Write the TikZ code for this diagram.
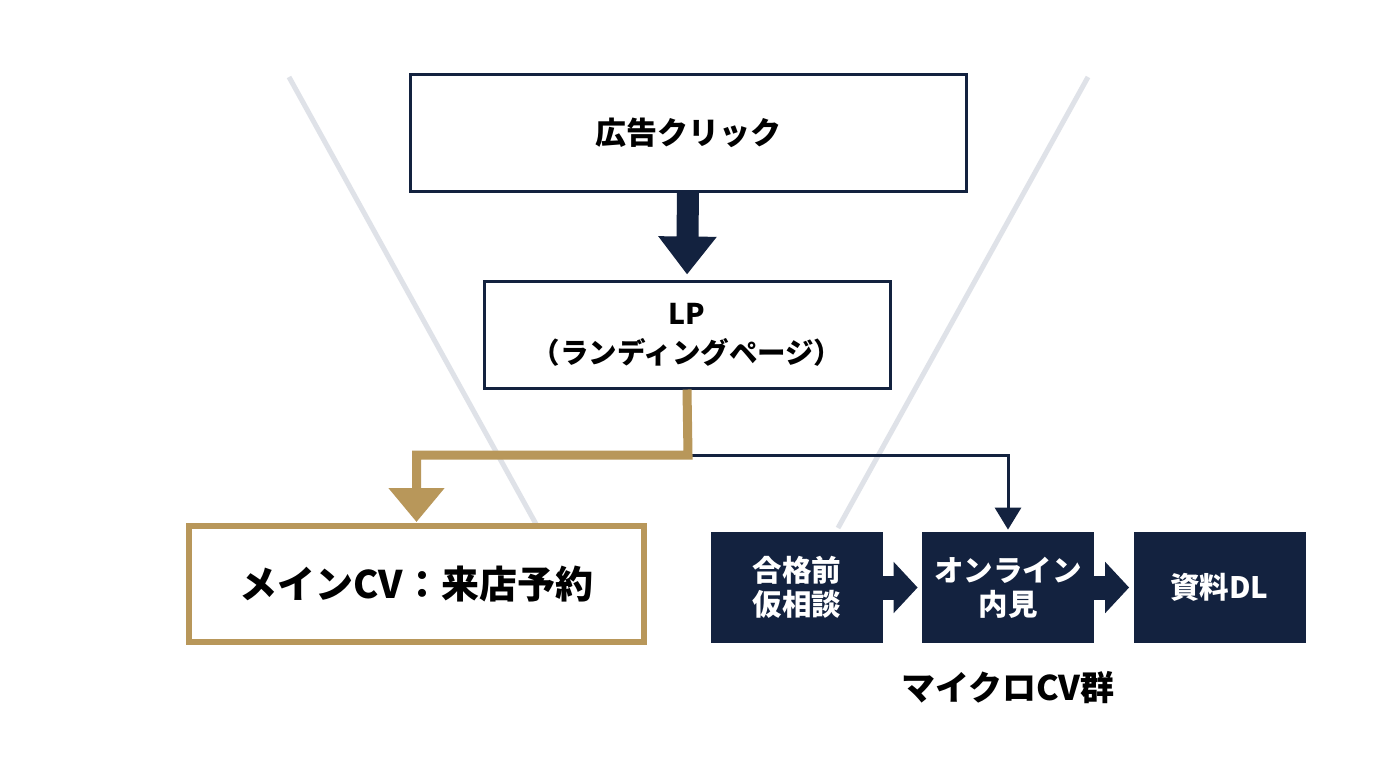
\documentclass[tikz,border=0pt]{standalone}
\usepackage{fontspec}
\setmainfont{Noto Sans CJK JP}
\usetikzlibrary{arrows.meta}

\definecolor{navy}{HTML}{13223F}
\definecolor{gold}{HTML}{B8975A}
\definecolor{funnel}{HTML}{DFE2E8}

\tikzset{
  framebox/.style={draw=navy, line width=1.5pt, fill=white, align=center,
    font=\bfseries\fontsize{15.5}{19.5}\selectfont},
  mainbox/.style={draw=gold, line width=3pt, fill=white, align=center,
    minimum width=227.5pt, minimum height=58pt,
    font=\bfseries\fontsize{19}{23}\selectfont},
  microbox/.style={fill=navy, text=white, align=center,
    minimum width=86pt, minimum height=55.5pt,
    font=\bfseries\fontsize{14.75}{17}\selectfont},
  funnelline/.style={draw=funnel, line width=2.5pt},
  bigarrow/.style={navy, line width=11pt, -{Triangle[width=28pt,length=19pt]}},
  goldarrow/.style={gold, line width=4.5pt, -{Triangle[width=27pt,length=17pt]}},
  navyarrow/.style={navy, line width=1.5pt, -{Triangle[width=13pt,length=11pt]}},
  blockarrow/.style={navy, line width=12pt, -{Triangle[width=25pt,length=12pt]}}
}

\begin{document}
\begin{tikzpicture}[x=0.5pt,y=-0.5pt]
  \useasboundingbox[fill=white] (0,0) rectangle (1376,768);

  % funnel outline
  \draw[funnelline] (289,77) -- (536,524);
  \draw[funnelline] (1088,77) -- (838,528);

  \node[framebox, minimum width=278pt, minimum height=58.5pt] (click) at (688,132.5) {広告クリック};
  \node[framebox, minimum width=203pt, minimum height=53.5pt,
        font=\bfseries\fontsize{14.25}{19.5}\selectfont] (lp) at (687,334.5) {LP\\（ランディングページ）};

  \node[mainbox] (main) at (416.5,584) {メインCV：来店予約};

  \node[microbox] (consult) at (797,587.5) {合格前\\仮相談};
  \node[microbox] (online) at (1008,587.5) {オンライン\\内見};
  \node[microbox] (dl) at (1219.5,587.5) {資料DL};
  \node[font=\bfseries\fontsize{17}{20}\selectfont] (micro) at (1008,688) {マイクロCV群};

  \coordinate (split) at (688,455);

  \draw[bigarrow, shorten >=2.5pt] (click.south) -- (lp.north);
  \draw[navyarrow, shorten >=1pt] (split) -| (online.north);
  \draw[goldarrow, shorten >=0.5pt] (lp.south) -- (split) -| (main.north);
  \draw[blockarrow, shorten >=2pt] (consult.east) -- (online.west);
  \draw[blockarrow, shorten >=2pt] (online.east) -- (dl.west);
\end{tikzpicture}
\end{document}
